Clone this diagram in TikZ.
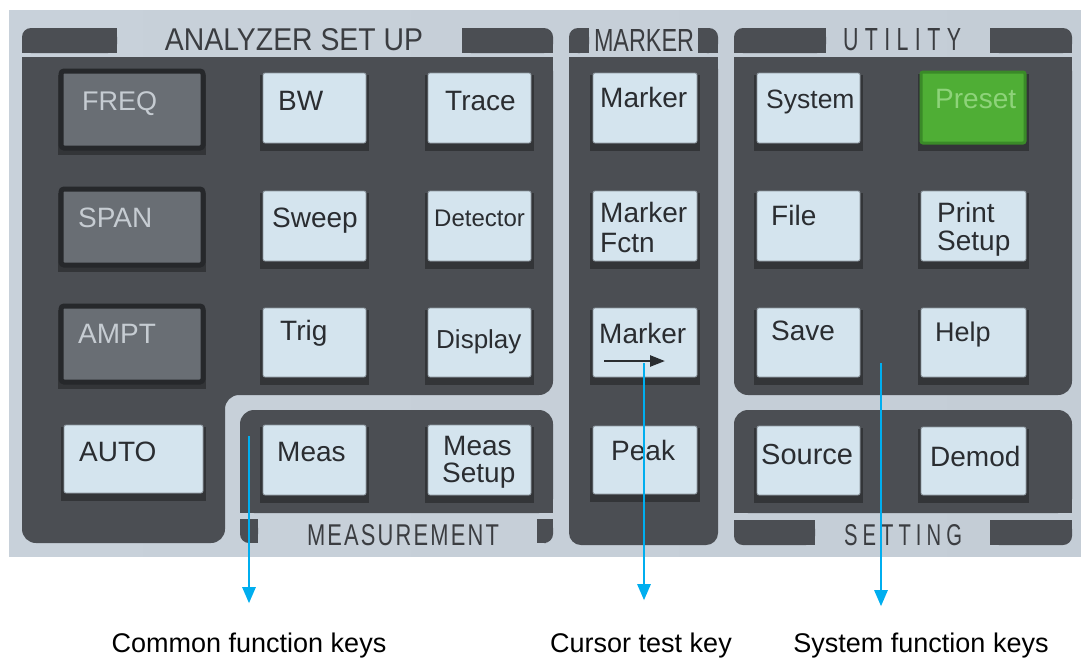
\documentclass[tikz,border=0pt]{standalone}
\usepackage{fontspec}
\setmainfont{Liberation Sans}
\usetikzlibrary{arrows.meta}
\definecolor{bgA}{HTML}{C8D1DA}
\definecolor{bgB}{HTML}{E4E9EE}
\definecolor{bgC}{HTML}{C4CDD6}
\definecolor{paneldark}{HTML}{4B4E53}
\definecolor{keylight}{HTML}{D4E4EE}
\definecolor{keyedge}{HTML}{8C969E}
\definecolor{keyshadow}{HTML}{333538}
\definecolor{keydark}{HTML}{696E74}
\definecolor{keyborder}{HTML}{26282B}
\definecolor{keytext}{HTML}{2A2D31}
\definecolor{dktext}{HTML}{C6CCD2}
\definecolor{presetfill}{HTML}{4FAE35}
\definecolor{presetedge}{HTML}{3A8A28}
\definecolor{presettext}{HTML}{8ED37A}
\definecolor{arrowblue}{HTML}{00AEEF}
\definecolor{headtext}{HTML}{3B3D41}
\newcommand{\ptabTL}[4]{\fill[panel,rounded corners=9pt] (#1,#2) rectangle (#3,#4);
  \fill[panel] (#1+9,#2) rectangle (#3,#4); \fill[panel] (#1,#2+9) rectangle (#3,#4);}
\newcommand{\ptabTR}[4]{\fill[panel,rounded corners=9pt] (#1,#2) rectangle (#3,#4);
  \fill[panel] (#1,#2) rectangle (#3-9,#4); \fill[panel] (#1,#2+9) rectangle (#3,#4);}
\newcommand{\ptabBL}[4]{\fill[panel,rounded corners=9pt] (#1,#2) rectangle (#3,#4);
  \fill[panel] (#1+9,#2) rectangle (#3,#4); \fill[panel] (#1,#2) rectangle (#3,#4-9);}
\newcommand{\ptabBR}[4]{\fill[panel,rounded corners=9pt] (#1,#2) rectangle (#3,#4);
  \fill[panel] (#1,#2) rectangle (#3-9,#4); \fill[panel] (#1,#2) rectangle (#3,#4-9);}
\newcommand{\lightkey}[5]{\fill[keyshadow] (#2-3,#3+2) rectangle (#4+3,#5+8);
  \node[lkey, minimum width={#4-#2}, minimum height={#5-#3}] (#1) at ({(#2+#4)/2},{(#3+#5)/2}) {};}
\newcommand{\darkkey}[5]{\fill[keyshadow] (#2-3,#3+4) rectangle (#4+3,#5+7);
  \node[dkey, minimum width={#4-#2}, minimum height={#5-#3}] (#1) at ({(#2+#4)/2},{(#3+#5)/2}) {};}
\begin{document}
\begin{tikzpicture}[x=1pt,y=-1pt,
  panel/.style={fill=paneldark},
  lkey/.style={draw=keyedge, line width=0.8pt, fill=keylight, rounded corners=2pt, inner sep=0pt},
  dkey/.style={draw=keyborder, line width=5pt, fill=keydark, rounded corners=3pt, inner sep=0pt},
  gkey/.style={draw=presetedge, line width=3pt, fill=presetfill, rounded corners=2pt, inner sep=0pt},
  ktext/.style={anchor=base west, inner sep=0pt, text=keytext, font=\fontsize{28}{30}\selectfont},
  dtext/.style={ktext, text=dktext},
  head/.style={inner sep=0pt, text=headtext},
  lab/.style={anchor=base, inner sep=0pt, text=black, font=\fontsize{27}{30}\selectfont},
  arr/.style={draw=arrowblue, line width=2.5pt, -{Triangle[width=13pt,length=16pt]}}]
\useasboundingbox (0,0) rectangle (1081,657);
\fill[white] (0,0) rectangle (1081,657);
\shade[left color=bgA, middle color=bgB, right color=bgC] (9,10) rectangle (1081,556);

% panels
\fill[panel, rounded corners=14pt] (22,57) -- (553,57) -- (553,395) -- (225,395) -- (225,543) -- (22,543) -- cycle;
\fill[panel] (22,57) rectangle (60,90);
\fill[panel] (515,57) rectangle (553,90);
\fill[panel, rounded corners=12pt] (569,57) rectangle (718,545);
\fill[panel] (569,57) rectangle (718,80);
\fill[panel, rounded corners=14pt] (734,57) rectangle (1072,395);
\fill[panel] (734,57) rectangle (1072,80);
\fill[panel, rounded corners=14pt] (240,410) rectangle (553,513);
\fill[panel] (240,490) rectangle (553,513);
\fill[panel, rounded corners=14pt] (734,410) rectangle (1072,513);
\fill[panel] (734,490) rectangle (1072,513);

% header tabs
\ptabTL{22}{28}{117}{53}
\ptabTR{462}{28}{553}{53}
\ptabTL{569}{28}{589}{53}
\ptabTR{698}{28}{718}{53}
\ptabTL{734}{28}{826}{53}
\ptabTR{990}{28}{1072}{53}
\ptabBL{240}{519}{258}{543}
\ptabBR{537}{519}{553}{543}
\ptabBL{734}{520}{815}{545}
\ptabBR{990}{520}{1072}{545}

% headings
\node[head] (hAna) at (294,40) {\resizebox{258pt}{22pt}{ANALYZER SET UP}};
\node[head] (hMar) at (644,40) {\resizebox{100pt}{22pt}{MARKER}};
\node[head] (hUti) at (902,40) {\resizebox{118pt}{22pt}{U\hspace{0.3em}T\hspace{0.3em}I\hspace{0.3em}L\hspace{0.3em}I\hspace{0.3em}T\hspace{0.3em}Y}};
\node[head] (hMea) at (403,535) {\resizebox{192pt}{21pt}{M\hspace{0.1em}E\hspace{0.1em}A\hspace{0.1em}S\hspace{0.1em}U\hspace{0.1em}R\hspace{0.1em}E\hspace{0.1em}M\hspace{0.1em}E\hspace{0.1em}N\hspace{0.1em}T}};
\node[head] (hSet) at (903,535) {\resizebox{118pt}{21pt}{S\hspace{0.25em}E\hspace{0.25em}T\hspace{0.25em}T\hspace{0.25em}I\hspace{0.25em}N\hspace{0.25em}G}};

% keys: column 1
\darkkey{kFreq}{61}{71}{203}{148}
\darkkey{kSpan}{61}{189}{203}{265}
\darkkey{kAmpt}{61}{306}{203}{382}
\lightkey{kAuto}{64}{425}{203}{493}
% column 2
\lightkey{kBw}{263}{73}{366}{143}
\lightkey{kSweep}{263}{191}{366}{261}
\lightkey{kTrig}{263}{308}{366}{377}
\lightkey{kMeas}{263}{425}{366}{495}
% column 3
\lightkey{kTrace}{428}{73}{531}{143}
\lightkey{kDet}{428}{191}{531}{261}
\lightkey{kDisp}{428}{308}{531}{377}
\lightkey{kMeasSet}{428}{425}{531}{495}
% column 4
\lightkey{kMarker}{593}{73}{697}{143}
\lightkey{kMkFctn}{593}{191}{697}{261}
\lightkey{kMkArr}{593}{308}{697}{377}
\lightkey{kPeak}{593}{426}{697}{494}
% column 5
\lightkey{kSystem}{757}{73}{860}{143}
\lightkey{kFile}{757}{191}{860}{261}
\lightkey{kSave}{757}{308}{860}{377}
\lightkey{kSource}{757}{426}{860}{495}
% column 6
\fill[keyshadow] (918,74) rectangle (1029,151);
\node[gkey, minimum width=104, minimum height=71] (kPreset) at (973,107.5) {};
\lightkey{kPrint}{921}{191}{1026}{261}
\lightkey{kHelp}{921}{308}{1026}{377}
\lightkey{kDemod}{921}{427}{1026}{495}

% key texts
\node[dtext, font=\fontsize{27}{30}\selectfont] (tFreq) at (82,110) {FREQ};
\node[dtext] (tSpan) at (78,227) {SPAN};
\node[dtext] (tAmpt) at (78,343) {AMPT};
\node[ktext] (tAuto) at (79,461) {AUTO};
\node[ktext] (tBw) at (278,110) {BW};
\node[ktext] (tSweep) at (272,227) {Sweep};
\node[ktext] (tTrig) at (280,340) {Trig};
\node[ktext] (tMeas) at (277,461) {Meas};
\node[ktext] (tTrace) at (445,110) {Trace};
\node[ktext, font=\fontsize{24}{26}\selectfont] (tDet) at (434,226) {Detector};
\node[ktext, font=\fontsize{26}{28}\selectfont] (tDisp) at (436,348) {Display};
\node[ktext] (tMeasA) at (443,455) {Meas};
\node[ktext] (tMeasB) at (442,482) {Setup};
\node[ktext] (tMarker) at (600,107) {Marker};
\node[ktext] (tFctnA) at (600,222) {Marker};
\node[ktext] (tFctnB) at (600,252) {Fctn};
\node[ktext] (tMkArr) at (599,343) {Marker};
\node[ktext] (tPeak) at (611,460) {Peak};
\node[ktext, font=\fontsize{26.5}{29}\selectfont] (tSystem) at (766,108) {System};
\node[ktext] (tFile) at (771,225) {File};
\node[ktext] (tSave) at (771,340) {Save};
\node[ktext, font=\fontsize{29}{31}\selectfont] (tSource) at (761,464) {Source};
\node[ktext, text=presettext] (tPreset) at (935,108) {Preset};
\node[ktext] (tPrintA) at (937,222) {Print};
\node[ktext] (tPrintB) at (937,250) {Setup};
\node[ktext, font=\fontsize{27}{29}\selectfont] (tHelp) at (935,341) {Help};
\node[ktext] (tDemod) at (930,466) {Demod};

% arrow glyph on Marker key
\coordinate (mkA) at (604,361);
\coordinate (mkB) at (665,361);
\draw[keytext, line width=2.5pt, -{Triangle[width=11pt,length=15pt]}] (mkA) -- (mkB);

% labels
\node[lab] (labA) at (249,652) {Common function keys};
\node[lab] (labB) at (641,652) {Cursor test key};
\node[lab] (labC) at (921,652) {System function keys};

% connectors
\coordinate (sA) at (249,436);
\coordinate (sB) at (644,363);
\coordinate (sC) at (881,363);
\draw[arr, shorten >=29pt] (sA) -- (sA |- labA.north);
\draw[arr, shorten >=32pt] (sB) -- (sB |- labB.north);
\draw[arr, shorten >=26pt] (sC) -- (sC |- labC.north);
\end{tikzpicture}
\end{document}
